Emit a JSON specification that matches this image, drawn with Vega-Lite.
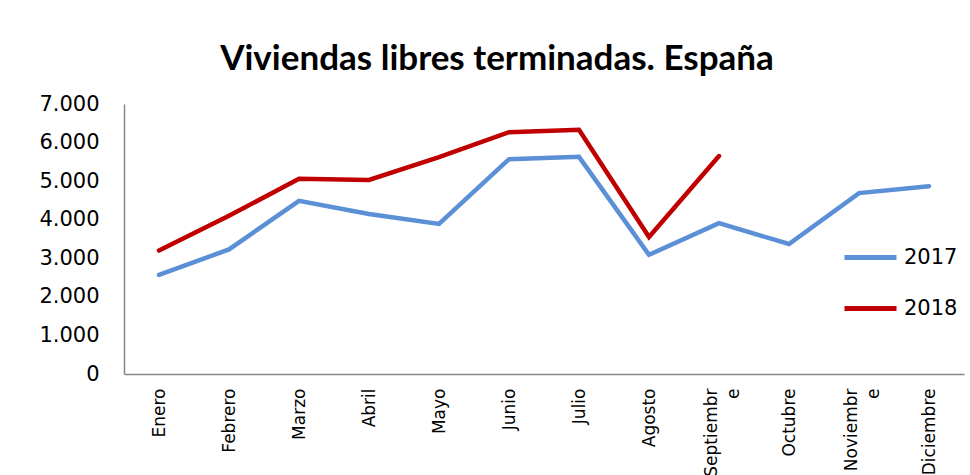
{
  "$schema": "https://vega.github.io/schema/vega-lite/v6.json",
  "width": 840,
  "height": 270,
  "autosize": {"type": "none"},
  "padding": {"left": 124, "top": 104, "right": 6, "bottom": 101},
  "background": "white",
  "title": {
    "text": "Viviendas libres terminadas. España",
    "font": "Lato",
    "fontSize": 35,
    "fontWeight": "bold",
    "color": "#000000",
    "anchor": "middle",
    "dx": -47,
    "baseline": "alphabetic",
    "offset": -12
  },
  "data": {
    "values": [
      {"mes": "Enero", "anio": "2017", "valor": 2570},
      {"mes": "Febrero", "anio": "2017", "valor": 3230},
      {"mes": "Marzo", "anio": "2017", "valor": 4490},
      {"mes": "Abril", "anio": "2017", "valor": 4150},
      {"mes": "Mayo", "anio": "2017", "valor": 3890},
      {"mes": "Junio", "anio": "2017", "valor": 5570},
      {"mes": "Julio", "anio": "2017", "valor": 5630},
      {"mes": "Agosto", "anio": "2017", "valor": 3090},
      {"mes": "Septiembre", "anio": "2017", "valor": 3910},
      {"mes": "Octubre", "anio": "2017", "valor": 3370},
      {"mes": "Noviembre", "anio": "2017", "valor": 4690},
      {"mes": "Diciembre", "anio": "2017", "valor": 4870},
      {"mes": "Enero", "anio": "2018", "valor": 3200},
      {"mes": "Febrero", "anio": "2018", "valor": 4100},
      {"mes": "Marzo", "anio": "2018", "valor": 5060},
      {"mes": "Abril", "anio": "2018", "valor": 5030},
      {"mes": "Mayo", "anio": "2018", "valor": 5620},
      {"mes": "Junio", "anio": "2018", "valor": 6270},
      {"mes": "Julio", "anio": "2018", "valor": 6330},
      {"mes": "Agosto", "anio": "2018", "valor": 3550},
      {"mes": "Septiembre", "anio": "2018", "valor": 5650}
    ]
  },
  "mark": {"type": "line", "strokeWidth": 4.5, "strokeCap": "round", "strokeJoin": "miter"},
  "encoding": {
    "x": {
      "field": "mes",
      "type": "ordinal",
      "sort": ["Enero", "Febrero", "Marzo", "Abril", "Mayo", "Junio", "Julio", "Agosto", "Septiembre", "Octubre", "Noviembre", "Diciembre"],
      "scale": {"type": "point", "padding": 0.5},
      "axis": {
        "title": null,
        "labelAngle": -90,
        "labelFont": "DejaVu Sans",
        "labelFontSize": 17,
        "labelColor": "#000000",
        "labelPadding": 14,
        "labelExpr": "datum.value == 'Septiembre' ? ['Septiembr', 'e'] : datum.value == 'Noviembre' ? ['Noviembr', 'e'] : datum.value",
        "labelLineHeight": 22,
        "labelOffset": {"condition": {"test": "datum.value == 'Septiembre' || datum.value == 'Noviembre'", "value": -8}, "value": 0},
        "ticks": false,
        "grid": false,
        "domainColor": "#868686",
        "domainWidth": 1.5
      }
    },
    "y": {
      "field": "valor",
      "type": "quantitative",
      "scale": {"domain": [0, 7000]},
      "axis": {
        "title": null,
        "values": [0, 1000, 2000, 3000, 4000, 5000, 6000, 7000],
        "labelExpr": "replace(format(datum.value, ','), ',', '.')",
        "labelFont": "DejaVu Sans",
        "labelFontSize": 21,
        "labelColor": "#000000",
        "labelPadding": 25,
        "ticks": false,
        "grid": false,
        "domainColor": "#868686",
        "domainWidth": 1.5
      }
    },
    "color": {
      "field": "anio",
      "type": "nominal",
      "scale": {"domain": ["2017", "2018"], "range": ["#5B8FD6", "#C00000"]},
      "legend": {
        "title": null,
        "orient": "none",
        "legendX": 718,
        "legendY": 125,
        "symbolType": "stroke",
        "symbolSize": 2704,
        "symbolStrokeWidth": 5,
        "labelFont": "DejaVu Sans",
        "labelFontSize": 21,
        "labelColor": "#000000",
        "labelOffset": 5,
        "rowPadding": 12
      }
    }
  },
  "config": {
    "view": {"stroke": null}
  }
}
